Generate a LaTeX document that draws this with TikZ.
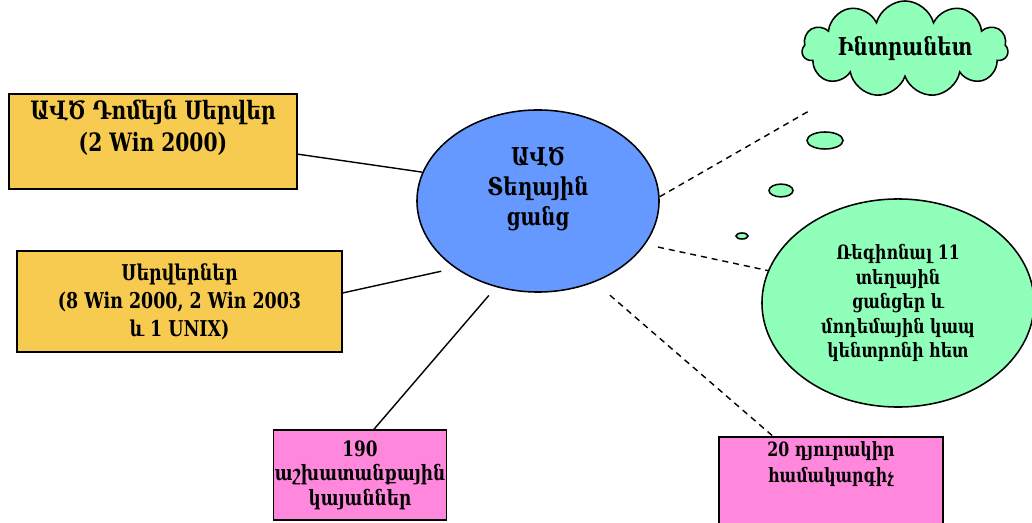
\documentclass[tikz,border=0pt]{standalone}
\usepackage{fontspec}
\setmainfont{DejaVu Serif}[FakeStretch=0.8]
\usetikzlibrary{shapes.geometric,shapes.symbols}

\definecolor{srvyellow}{HTML}{F7CB50}
\definecolor{lanblue}{HTML}{6699FF}
\definecolor{netgreen}{HTML}{8FFFB9}
\definecolor{wspink}{HTML}{FF88DD}

\tikzset{
    srvbox/.style={draw, line width=1.1pt, fill=srvyellow, align=center},
    pcbox/.style={draw, line width=1.1pt, fill=wspink, align=center},
    netshape/.style={draw, line width=1.1pt, fill=netgreen, align=center},
    link/.style={line width=1pt},
    wireless/.style={line width=1pt, dash pattern=on 4.3pt off 3.5pt},
}

\begin{document}
\begin{tikzpicture}[x=0.025cm, y=-0.025cm]
    \useasboundingbox (0,0) rectangle (1032,523);

    \node[srvbox, minimum width=7.2cm, minimum height=2.375cm,
        font=\bfseries\fontsize{18}{22.8}\selectfont] (dom) at (153,141.5)
        {ԱՎԾ Դոմեյն Սերվեր\\(2 Win 2000)\\};
    \node[srvbox, minimum width=8.125cm, minimum height=2.525cm,
        font=\bfseries\fontsize{15.5}{20}\selectfont] (srv) at (179.5,301.5)
        {Սերվերներ\\(8 Win 2000, 2 Win 2003\\և 1 UNIX)};
    \node[ellipse, draw, line width=1.1pt, fill=lanblue, align=center,
        minimum width=6.05cm, minimum height=4.55cm,
        font=\bfseries\fontsize{17.5}{21.3}\selectfont] (lan) at (538,201)
        {ԱՎԾ\\Տեղային\\ցանց\\};
    \node[cloud, netshape, cloud puffs=11, cloud ignores aspect,
        minimum width=5.15cm, minimum height=2.4cm,
        font=\bfseries\fontsize{17.5}{21}\selectfont] (net) at (905,49)
        {Ինտրանետ};
    \node[ellipse, netshape, minimum width=6.8cm, minimum height=5.2cm,
        font=\bfseries\fontsize{14}{17.4}\selectfont] (reg) at (898,303)
        {Ռեգիոնալ 11\\տեղային\\ցանցեր և\\մոդեմային կապ\\կենտրոնի հետ};
    \node[pcbox, minimum width=4.3cm, minimum height=2.25cm, inner xsep=1pt,
        font=\bfseries\fontsize{15}{17.4}\selectfont] (ws) at (360,475)
        {190\\աշխատանքային\\կայաններ};
    \node[pcbox, anchor=north, minimum width=5.6cm,
        font=\bfseries\fontsize{14}{18.5}\selectfont] (lap) at (831,436)
        {20 դյուրակիր\\համակարգիչ\\[40pt]};

    % thought bubbles under the cloud
    \filldraw[netshape] (825,140.5) ellipse [x radius=0.45cm, y radius=0.2125cm];
    \filldraw[netshape] (781,190.5) ellipse [x radius=0.3cm, y radius=0.16cm];
    \filldraw[netshape] (742,236) ellipse [x radius=0.15cm, y radius=0.075cm];

    \coordinate (netend) at (809,111);

    \draw[link] (dom.-5) -- (lan.166);
    \draw[link, shorten >=10pt] (srv.3) -- (lan.219);
    \draw[link, shorten >=7.8pt] (ws.73) -- (lan.244.5);

    \draw[wireless] (lan.2) -- (netend);
    \draw[wireless, shorten <=9.2pt] (lan.-22.2) -- (reg.166);
    \draw[wireless, shorten <=14.2pt] (lan.-55.5) -- (lap.131);
\end{tikzpicture}
\end{document}
